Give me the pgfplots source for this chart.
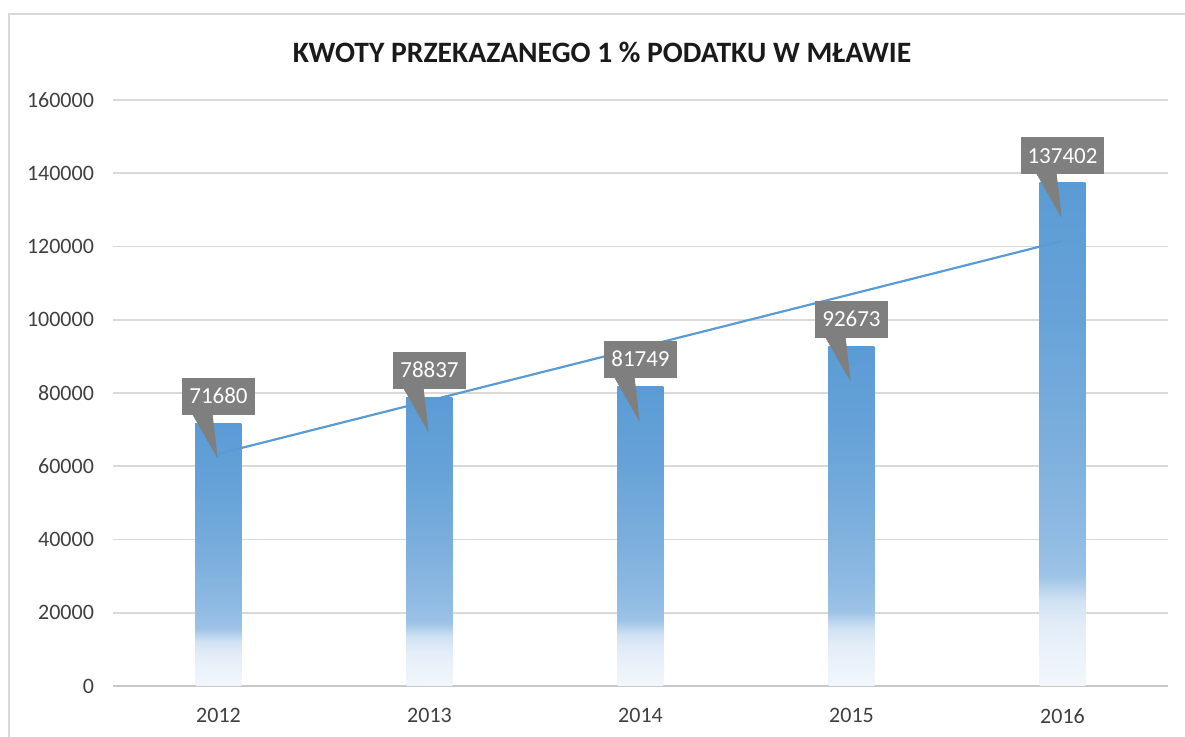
\documentclass[border=0pt]{standalone}
\usepackage{pgfplots}
\pgfplotsset{compat=1.18}
\usepackage{fontspec}
\setmainfont{Carlito}
\definecolor{barblue}{HTML}{5B9BD5}
\definecolor{cA}{HTML}{F3F7FC}
\definecolor{cB}{HTML}{E3EDF8}
\definecolor{cC}{HTML}{D0E2F3}
\definecolor{cD}{HTML}{9DC3E6}
\definecolor{cE}{HTML}{8FBAE3}
\definecolor{cF}{HTML}{7AAEDC}
\definecolor{cG}{HTML}{66A2D8}
\definecolor{calloutgray}{HTML}{7F7F7F}
\definecolor{gridgray}{HTML}{D9D9D9}
\definecolor{zerogray}{HTML}{C8C8C8}
\definecolor{framegray}{HTML}{D9D9D9}
\definecolor{titlecol}{HTML}{1A1A1A}
\definecolor{tickcol}{HTML}{404040}
\pgfdeclareverticalshading{barshade}{100bp}{color(0bp)=(cA); color(25bp)=(cA); color(31bp)=(cB); color(33.5bp)=(cC); color(36bp)=(cD); color(40bp)=(cE); color(50bp)=(cF); color(62.5bp)=(cG); color(75bp)=(barblue); color(100bp)=(barblue)}
\pgfplotsset{
  mybar/.style={ybar, bar width=23pt, bar shift=0pt, draw=none, fill=barblue, shade, shading=barshade,
  nodes near coords={\pgfmathprintnumber[fixed,precision=0]{\pgfplotspointmeta}},
  every node near coord/.append style={
    anchor=south, yshift=4pt, fill=calloutgray, text=white,
    font=\fontsize{11.5}{13}\selectfont,
    inner xsep=3.5pt, inner ysep=0pt, minimum height=18.5pt,
    text height=7.3pt, text depth=0pt,
    append after command={\pgfextra{\pgfinterruptpath
      \path[fill=calloutgray, top color=calloutgray, bottom color=calloutgray] ([xshift=-13pt,yshift=0.5pt]\tikzlastnode.south) -- ([xshift=-3pt,yshift=0.5pt]\tikzlastnode.south) -- ([xshift=-0.5pt,yshift=-21.25pt]\tikzlastnode.south) -- cycle;
      \endpgfinterruptpath}}
  }}
}
\begin{document}
\begin{tikzpicture}
\path[use as bounding box] (0,0) rectangle (592.5pt,-368.5pt);
\draw[framegray, line width=1pt] (4.5pt,-380pt) -- (4.5pt,-7pt) -- (600pt,-7pt);
\node[font=\fontsize{14.8}{17}\selectfont\bfseries, text=titlecol] at (301pt,-26pt) {KWOTY PRZEKAZANEGO 1 \% PODATKU W MŁAWIE};
\begin{axis}[
  at={(56.5pt,-343pt)}, anchor=south west,
  scale only axis, width=527.5pt, height=293pt,
  xmin=-0.5, xmax=4.5, ymin=0, ymax=160000,
  ytick distance=20000,
  xtick={0,1,2,3,4}, xticklabels={2012,2013,2014,2015,2016},
  axis line style={draw=none},
  major tick length=0pt,
  ymajorgrids, grid style={gridgray, line width=0.9pt},
  extra y ticks={0}, extra y tick labels={},
  extra y tick style={grid style={zerogray, line width=0.9pt}},
  scaled y ticks=false,
  /pgf/number format/fixed,
  /pgf/number format/precision=0,
  /pgf/number format/1000 sep={},
  /pgf/number format/assume math mode=true,
  ticklabel style={font=\fontsize{11}{13}\selectfont, text=tickcol},
  yticklabel style={xshift=-6pt},
  xticklabel style={yshift=-7.7pt},
  clip=false,
]
\addplot[mybar] coordinates {(0,71680)};
\addplot[mybar] coordinates {(1,78837)};
\addplot[mybar] coordinates {(2,81749)};
\addplot[mybar] coordinates {(3,92673)};
\addplot[mybar] coordinates {(4,137402)};
\addplot[barblue, line width=1.1pt, no marks] coordinates {(0,63412.2) (4,121524.2)};
\end{axis}
\end{tikzpicture}
\end{document}
